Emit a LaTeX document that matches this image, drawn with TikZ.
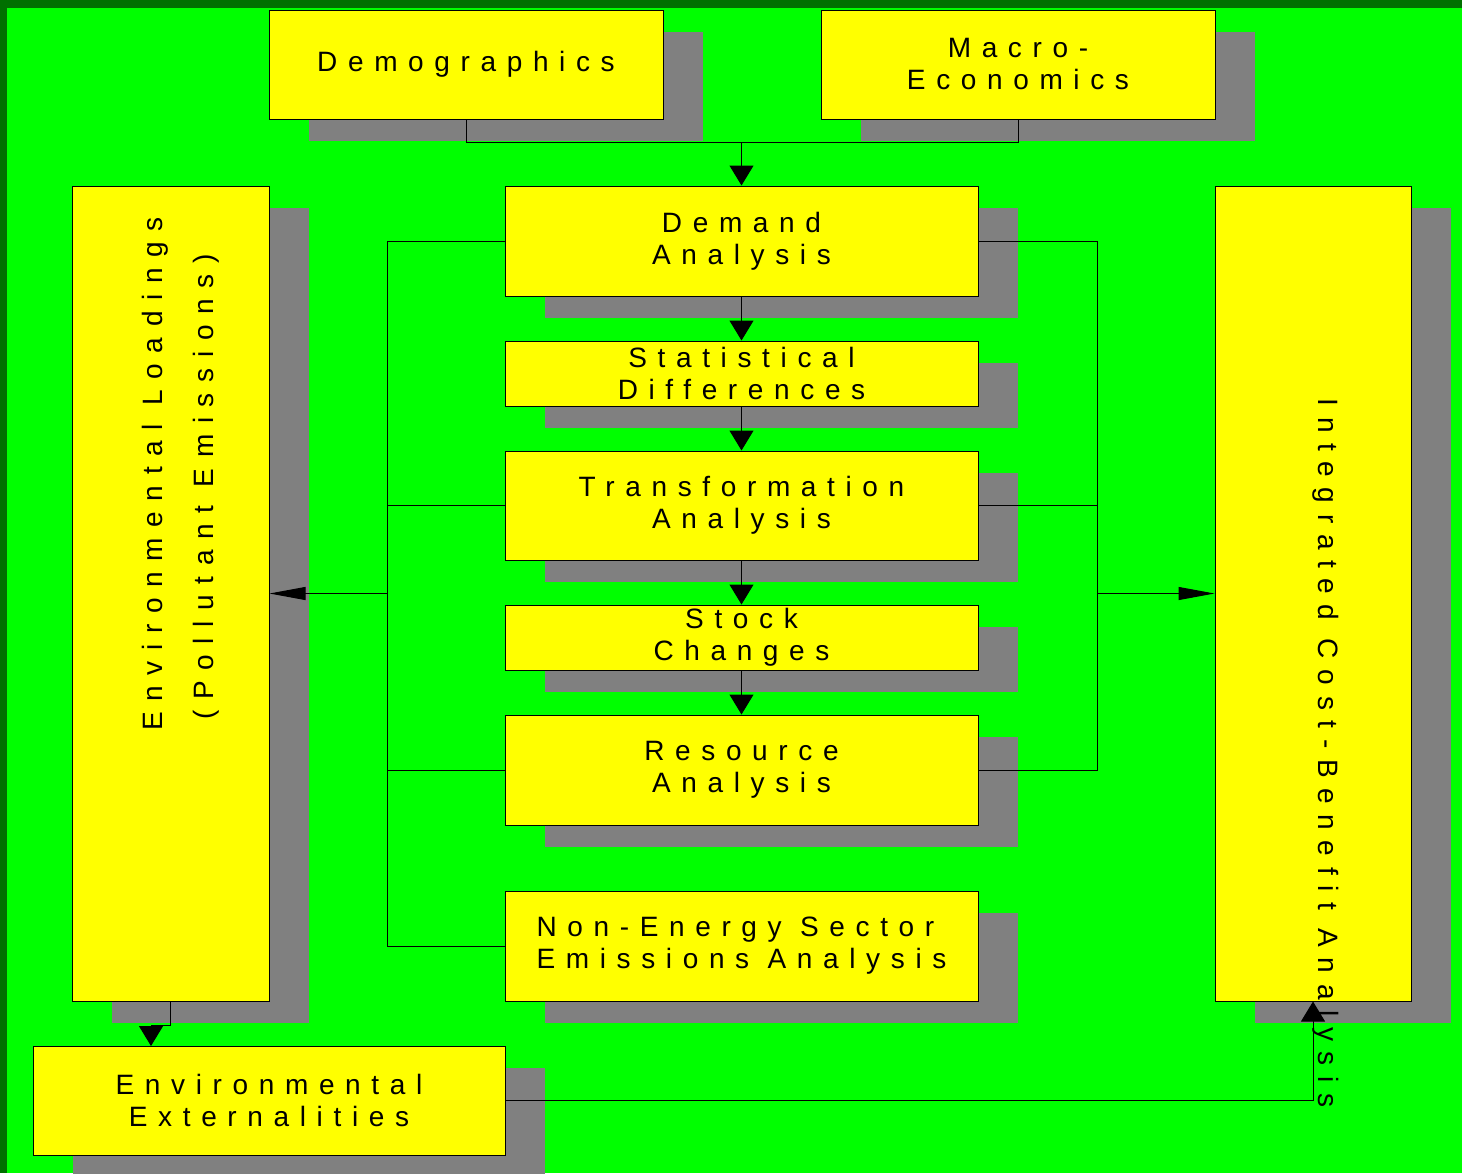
\documentclass[tikz,border=0pt]{standalone}
\usepackage{fontspec}
\setmainfont{Liberation Sans}[LetterSpace=38]
\usepackage{tikz}
\usetikzlibrary{arrows.meta,shadows}

\definecolor{bg}{HTML}{00FF00}
\definecolor{rim}{HTML}{007000}
\definecolor{boxfill}{HTML}{FFFF00}

\tikzset{
  box/.style={draw, fill=boxfill, line width=0.5pt, inner sep=0pt, align=center,
    drop shadow={shadow xshift=20pt, shadow yshift=-11pt, fill=gray, opacity=1}},
  lbl/.style={font=\fontsize{14}{16}\selectfont, inner sep=0pt},
  varrow/.style={-{Triangle[length=10pt,width=12pt]}},
  harrow/.style={-{Triangle[length=18pt,width=6.5pt]}}
}

\begin{document}
\begin{tikzpicture}[x=0.5pt,y=-0.5pt,line width=0.5pt]

  \useasboundingbox (0,0) rectangle (1462,1173);
  \fill[rim] (0,0) rectangle (1462,1173);
  \fill[bg] (7,8) rectangle (1462,1173);

  % top row
  \node[box,lbl,minimum width=197pt,minimum height=54.5pt] (demo) at (466,64.5) {Demographics};
  \node[box,lbl,minimum width=197pt,minimum height=54.5pt] (macro) at (1018,64.5) {Macro-\\Economics};

  % middle column
  \node[box,lbl,minimum width=236.5pt,minimum height=55pt] (demand) at (741.5,241) {Demand\\Analysis};
  \node[box,lbl,minimum width=236.5pt,minimum height=32.5pt] (stat) at (741.5,373.5) {Statistical\\Differences};
  \node[box,lbl,minimum width=236.5pt,minimum height=54.5pt] (trans) at (741.5,505.5) {Transformation\\Analysis};
  \node[box,lbl,minimum width=236.5pt,minimum height=32.5pt] (stock) at (741.5,637.5) {Stock\\Changes};
  \node[box,lbl,minimum width=236.5pt,minimum height=55pt] (res) at (741.5,770) {Resource\\Analysis};
  \node[box,lbl,align=left,minimum width=236.5pt,minimum height=55pt] (nonen) at (741.5,946) {Non-Energy Sector\\Emissions Analysis};

  % side columns
  \node[box,minimum width=98.5pt,minimum height=407.5pt] (envload) at (170.5,593.5) {};
  \node[box,minimum width=98pt,minimum height=407.5pt] (integ) at (1313,593.5) {};
  \node[box,lbl,minimum width=236pt,minimum height=54.5pt] (envext) at (269,1100.5) {Environmental\\Externalities};

  \coordinate (topjoin) at (741.5,142);
  \coordinate (lbus) at (387,593.5);
  \coordinate (rbus) at (1097,593.5);

  \draw (demo.south) -- ++(0,23) -| (macro.south);
  \draw[varrow] (topjoin) -- (demand);

  \draw[varrow] (demand) -- (stat);
  \draw[varrow] (stat) -- (trans);
  \draw[varrow] (trans) -- (stock);
  \draw[varrow] (stock) -- (res);

  % left bus
  \draw (demand.west) -| (lbus |- nonen.west) -- (nonen.west);
  \draw (trans.west) -- (lbus |- trans.west);
  \draw (res.west) -- (lbus |- res.west);
  \draw[harrow] (lbus) -- (envload.east);

  % right bus
  \draw (demand.east) -| (rbus |- res.east) -- (res.east);
  \draw (trans.east) -- (rbus |- trans.east);
  \draw[harrow] (rbus) -- (integ.west);

  \draw[varrow] (envload.south) -- ++(0,24) -| (151,1046);
  \draw[varrow] (envext.east) -| (integ.south);

  % rotated texts
  \node[lbl,rotate=90,anchor=base] (loadtxt) at (162,474) {Environmental Loadings};
  \node[lbl,rotate=90,anchor=base] (polltxt) at (213,487) {(Pollutant Emissions)};
  \node[lbl,rotate=-90,anchor=base] (integtxt) at (1318,753) {Integrated Cost-Benefit Analysis};

\end{tikzpicture}
\end{document}
